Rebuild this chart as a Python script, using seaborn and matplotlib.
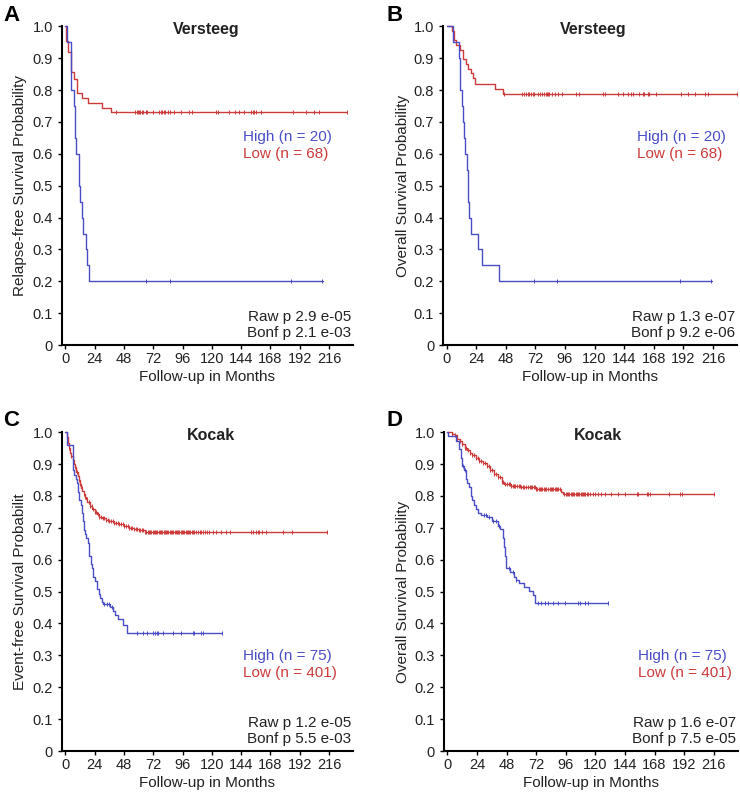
import numpy as np
import matplotlib
matplotlib.use("Agg")
import matplotlib.pyplot as plt
import seaborn as sns

# ---- A: Versteeg, relapse-free ----
a_high_t = [0, 1, 5, 7.3, 8, 9, 11.4, 12, 13.9, 14.5, 16.6, 17.5, 19.2]
a_high_s = [1.0, 0.95, 0.80, 0.75, 0.65, 0.60, 0.50, 0.45, 0.40, 0.35, 0.30, 0.25, 0.20]
a_high_end = 211
a_high_cens = [66.5, 85.5, 185, 210.5]

a_low_t = [0, 0.5, 2.5, 4.5, 7.3, 9.2, 13.3, 18.2, 30.4, 37.8]
a_low_s = [1.0, 0.955, 0.92, 0.857, 0.835, 0.792, 0.775, 0.76, 0.745, 0.73]
a_low_end = 230.5
a_low_cens = [41.3, 57, 58.4, 59.2, 60.6, 61.4, 62.5, 63.9, 65.8, 67.1, 72, 76.6,
              78, 79.3, 80.7, 82, 84.2, 86.1, 89.1, 95.1, 101.4, 103.5, 123.1, 125,
              134, 138.6, 142.1, 146.2, 152.2, 153.5, 154.9, 156.3, 160.3, 186.1,
              197, 203.8, 207.9, 230.5]

# ---- B: Versteeg, overall ----
b_high_t = [0, 5, 10, 10.6, 11.2, 12.2, 13, 14.4, 15.3, 16.3, 17, 17.7, 18.5, 19.8,
            25.8, 29.1, 42.7]
b_high_s = [1.0, 0.95, 0.90, 0.85, 0.80, 0.75, 0.70, 0.65, 0.60, 0.55, 0.50, 0.45,
            0.40, 0.35, 0.30, 0.25, 0.20]
b_high_end = 215
b_high_cens = [70.7, 89.7, 188.9, 214.7]

b_low_t = [0, 4, 6, 8, 11, 13.5, 15.5, 17.5, 19.5, 21.5, 23, 39, 46]
b_low_s = [1.0, 0.985, 0.956, 0.94, 0.926, 0.897, 0.882, 0.867, 0.853, 0.838, 0.818,
           0.804, 0.789]
b_low_end = 235.5
b_low_cens = [46.2, 61.1, 63, 64.4, 65.8, 67.1, 68.5, 69.8, 71.2, 73.9, 75.5, 77.4,
              79.3, 80.7, 81.5, 82.3, 83.4, 85.6, 87.5, 90.2, 93.8, 105.2, 107.3,
              126.9, 128.5, 138.6, 142.7, 146.7, 149.5, 150.8, 156.3, 159, 160.3,
              163, 164.4, 169.8, 190.2, 195.7, 201.1, 209.2, 212, 235.5]

# ---- C: Kocak, event-free ----
c_high_t = [0, 1.5, 6, 7.5, 8.5, 9.5, 10.5, 11.5, 12.5, 13.5, 14.5, 15.5, 16.3, 17.2,
            18.2, 19, 19.8, 20.8, 21.7, 23, 24.4, 25.8, 27.2, 28.5, 29.9, 31.2, 36.7,
            39.4, 40.7, 43, 47.5, 50.3]
c_high_s = [1.0, 0.96, 0.88, 0.867, 0.853, 0.84, 0.813, 0.787, 0.773, 0.747, 0.72,
            0.693, 0.68, 0.667, 0.653, 0.627, 0.613, 0.587, 0.573, 0.547, 0.533, 0.507,
            0.493, 0.48, 0.467, 0.46, 0.452, 0.44, 0.427, 0.413, 0.395, 0.369]
c_high_end = 128.5
c_high_cens = [32, 34, 36, 38, 58.4, 63.8, 66.6, 72, 73.4, 74.7, 76.1, 80.1, 88.3,
               95.1, 104.6, 105.4, 111.4, 112.7, 128.5]

c_low_t = [0, 1, 2, 3, 4, 5, 6, 7, 8, 9, 10, 11, 12, 13, 14, 15, 16, 17, 18, 20, 22,
           24, 26, 28, 30, 33, 36, 40, 44, 48, 52, 56, 60, 65]
c_low_s = [1.0, 0.985, 0.965, 0.95, 0.935, 0.925, 0.912, 0.9, 0.89, 0.875, 0.862, 0.85,
           0.838, 0.826, 0.815, 0.806, 0.797, 0.789, 0.782, 0.77, 0.76, 0.75, 0.742,
           0.735, 0.73, 0.725, 0.722, 0.716, 0.712, 0.705, 0.7, 0.697, 0.692, 0.687]
c_low_end = 214.5
c_low_cens = [3, 5, 6.5, 8, 9.5, 11, 12, 13.5, 15, 16, 17.5, 19, 20, 21.5, 23, 24,
              25.5, 27, 28, 29.5, 31, 32, 33.5, 35, 36, 37.5, 39, 40, 41.5, 43, 44,
              45.5, 47, 48, 49.5, 51, 52, 53.5, 55, 56, 57.5, 59, 60, 61.5, 63, 64,
              65.5, 66.5, 67.5, 68.5, 69.5, 70.5, 71.5, 72.5, 73.5, 74.5, 75.5, 76.5,
              77.5, 78.5, 79.5, 80.5, 81.5, 82.5, 83.5, 84.5, 85.5, 86.5, 87.5, 88.5,
              89.5, 90.5, 91.5, 92.5, 93.5, 94.5, 95.5, 96.5, 97.5, 98.5, 99.5, 100.5,
              101.5, 102.5, 103.5, 104.5, 105.5, 107, 108.5, 110, 111.5, 113, 114.5,
              116, 118, 121, 123.5, 127.5, 132, 134.5, 152, 153.5, 156.5, 157.5, 159,
              161.5, 164.5, 178, 186, 214.5]

# ---- D: Kocak, overall ----
d_high_t = [0, 0.5, 6.8, 9.5, 11, 12, 13.6, 14.9, 16.3, 17.7, 19, 20.4, 21.7, 23,
            24.5, 27.2, 32, 36, 40.8, 43, 44.8, 45.5, 46.2, 47, 47.6, 51, 54.3, 56,
            58.4, 62.5, 66.6, 69.3, 70.7]
d_high_s = [1.0, 0.987, 0.973, 0.947, 0.92, 0.893, 0.88, 0.853, 0.84, 0.827, 0.80,
            0.787, 0.773, 0.76, 0.747, 0.74, 0.733, 0.72, 0.707, 0.697, 0.687, 0.667,
            0.64, 0.613, 0.573, 0.56, 0.546, 0.536, 0.526, 0.515, 0.503, 0.489, 0.463]
d_high_end = 130
d_high_cens = [12.5, 14, 29.9, 31.3, 34, 36.7, 39.4, 42.1, 50, 53, 56, 73.4, 76.1,
               78.8, 81.5, 85.6, 89.7, 95.1, 106, 107.3, 111.4, 114.1, 130]

d_low_t = [0, 4, 6, 8, 10, 12, 14, 16, 18, 20, 23, 26, 29, 32, 35, 38, 41, 44, 46,
           52, 60, 72, 92, 94]
d_low_s = [1.0, 0.995, 0.99, 0.98, 0.972, 0.962, 0.952, 0.943, 0.935, 0.929, 0.92,
           0.911, 0.903, 0.893, 0.882, 0.87, 0.858, 0.845, 0.837, 0.832, 0.827, 0.823,
           0.813, 0.806]
d_low_end = 216
d_low_cens = [4, 6, 8, 10, 12, 14, 15.5, 17, 18.5, 20, 21.5, 23, 24.5, 26, 27.5, 29,
              30.5, 32, 33.5, 35, 36.5, 38, 39.5, 41, 42.5, 44, 45.5, 47, 48.5, 50,
              51, 52, 53, 54, 55, 56.5, 58, 59, 60, 61, 62.5, 64, 65.5, 67, 68, 69,
              70, 71, 72, 73, 74, 75, 76, 77, 78, 79, 80, 81.5, 83, 84, 85, 86, 87,
              88, 89, 90, 91, 95, 96, 97, 98, 99, 100, 101, 102, 103, 104, 105, 106,
              107, 108, 109, 110, 111, 112, 113, 114, 116, 118, 119.5, 122.5, 125,
              127.5, 133, 138.5, 144, 153.5, 155, 161.5, 163, 164.5, 179.5, 189,
              190, 216]

panel_letters = ["A", "B", "C", "D"]
titles = ["Versteeg", "Versteeg", "Kocak", "Kocak"]
ylabels = ["Relapse-free Survival Probability", "Overall Survival Probability",
           "Event-free Survival Probabilit", "Overall Survival Probability"]
high_labels = ["High (n = 20)", "High (n = 20)", "High (n = 75)", "High (n = 75)"]
low_labels = ["Low (n = 68)", "Low (n = 68)", "Low (n = 401)", "Low (n = 401)"]
raw_p = ["Raw p 2.9 e-05", "Raw p 1.3 e-07", "Raw p 1.2 e-05", "Raw p 1.6 e-07"]
bonf_p = ["Bonf p 2.1 e-03", "Bonf p 9.2 e-06", "Bonf p 5.5 e-03", "Bonf p 7.5 e-05"]
x_ticks = [0, 24, 48, 72, 96, 120, 144, 168, 192, 216]
y_ticks = [0, 0.1, 0.2, 0.3, 0.4, 0.5, 0.6, 0.7, 0.8, 0.9, 1.0]
y_ticklabels = ["0", "0.1", "0.2", "0.3", "0.4", "0.5", "0.6", "0.7", "0.8", "0.9", "1.0"]

curves = [
    (a_high_t, a_high_s, a_high_end, a_high_cens, a_low_t, a_low_s, a_low_end, a_low_cens),
    (b_high_t, b_high_s, b_high_end, b_high_cens, b_low_t, b_low_s, b_low_end, b_low_cens),
    (c_high_t, c_high_s, c_high_end, c_high_cens, c_low_t, c_low_s, c_low_end, c_low_cens),
    (d_high_t, d_high_s, d_high_end, d_high_cens, d_low_t, d_low_s, d_low_end, d_low_cens),
]

BLUE = "#4a4ec6"
RED = "#cc3a3a"
TXT = "#222222"

sns.set_style("ticks")
plt.rcParams["font.family"] = ["Liberation Sans", "DejaVu Sans"]


def surv_at(t, s, x):
    idx = np.searchsorted(np.asarray(t), np.asarray(x), side="right") - 1
    return np.asarray(s)[idx]


def km(ax, t, s, end, cens, color):
    tt = list(t) + [end]
    ss = list(s) + [s[-1]]
    sns.lineplot(x=tt, y=ss, ax=ax, color=color, lw=1.0, drawstyle="steps-post",
                 estimator=None, sort=False, clip_on=False)
    sns.scatterplot(x=cens, y=surv_at(t, s, cens), ax=ax, marker="|", s=10,
                    color=color, linewidth=0.7, clip_on=False)


fig = plt.figure(figsize=(7.4, 7.97), dpi=100)
positions = [[0.0838, 0.567, 0.393, 0.400], [0.599, 0.567, 0.397, 0.400],
             [0.0838, 0.0577, 0.393, 0.400], [0.600, 0.0577, 0.397, 0.400]]
letter_xy = [(0.004, 0.981), (0.522, 0.981), (0.004, 0.473), (0.522, 0.473)]
title_x = [0.495, 0.51, 0.514, 0.525]
leg_x = [0.622, 0.659, 0.622, 0.659]
leg_y = [(0.652, 0.599), (0.652, 0.599), (0.298, 0.245), (0.298, 0.245)]
ylab_x = [-0.145, -0.137, -0.145, -0.14]

for i in range(4):
    ax = fig.add_axes(positions[i])
    ht, hs, he, hc, lt, ls, le, lc = curves[i]
    km(ax, lt, ls, le, lc, RED)
    km(ax, ht, hs, he, hc, BLUE)

    ax.set_xlim(-2.7, 235.5)
    ax.set_ylim(0, 1.0)
    ax.set_xticks(x_ticks)
    ax.set_yticks(y_ticks)
    ax.set_yticklabels(y_ticklabels)
    sns.despine(ax=ax)
    for side in ["left", "bottom"]:
        ax.spines[side].set_linewidth(1.5)
        ax.spines[side].set_color("black")
    ax.tick_params(axis="both", direction="out", length=3, width=1,
                   labelsize=10.5, colors="black", labelcolor=TXT)
    ax.tick_params(axis="x", pad=2)
    ax.tick_params(axis="y", pad=3.5)

    ax.set_xlabel("Follow-up in Months", fontsize=11, color=TXT)
    ax.xaxis.set_label_coords(0.5, -0.1)
    ax.xaxis.label.set_verticalalignment("center")
    ax.set_ylabel(ylabels[i], fontsize=11, color=TXT)
    ax.yaxis.set_label_coords(ylab_x[i], 0.5)
    ax.yaxis.label.set_verticalalignment("center")

    ax.text(title_x[i], 0.99, titles[i], transform=ax.transAxes, ha="center",
            va="center", fontsize=11.5, fontweight="bold", color=TXT)
    ax.text(leg_x[i], leg_y[i][0], high_labels[i], transform=ax.transAxes,
            ha="left", va="center", fontsize=11, color=BLUE)
    ax.text(leg_x[i], leg_y[i][1], low_labels[i], transform=ax.transAxes,
            ha="left", va="center", fontsize=11, color=RED)
    ax.text(0.995, 0.089, raw_p[i], transform=ax.transAxes, ha="right",
            va="center", fontsize=11, color=TXT)
    ax.text(0.995, 0.038, bonf_p[i], transform=ax.transAxes, ha="right",
            va="center", fontsize=11, color=TXT)

    fig.text(letter_xy[i][0], letter_xy[i][1], panel_letters[i], ha="left",
             va="center", fontsize=16, fontweight="bold", color="black")

fig.savefig("out.png", dpi=100)
